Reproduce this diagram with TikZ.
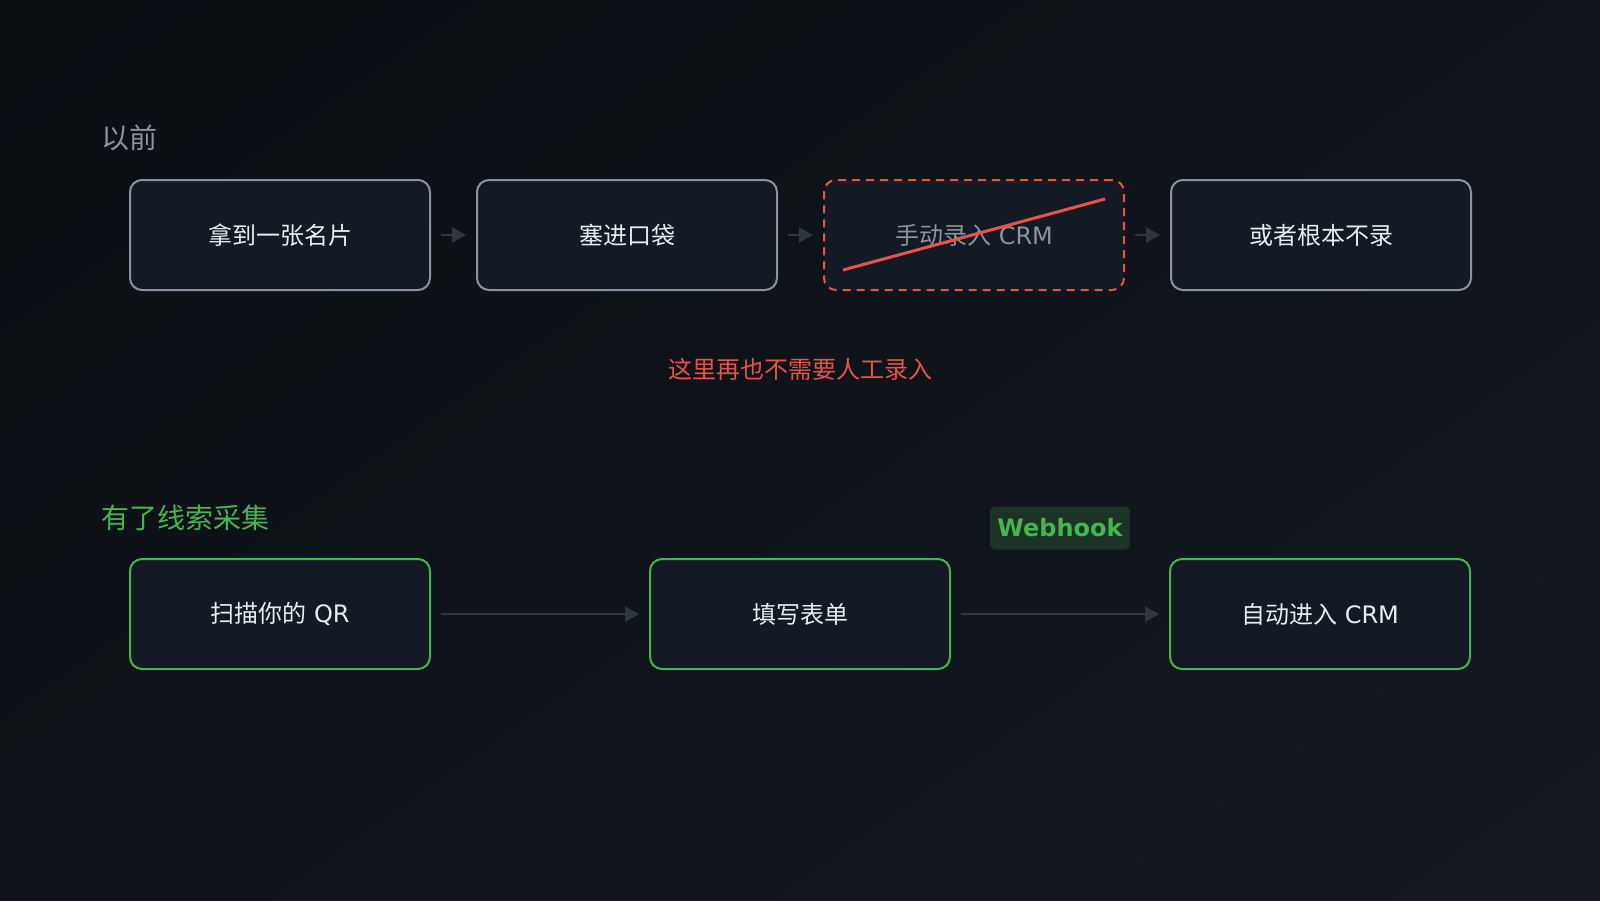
\documentclass[tikz,border=0pt]{standalone}
\usepackage{fontspec}
\setmainfont{DejaVu Sans}
\newfontfamily\cjk{Noto Sans CJK SC}
\usetikzlibrary{positioning,arrows.meta}
\definecolor{bgA}{HTML}{0B0F14}
\definecolor{bgB}{HTML}{141920}
\definecolor{cardfill}{HTML}{141A23}
\definecolor{oldgray}{HTML}{8B949E}
\definecolor{cardtext}{HTML}{E6EDF3}
\definecolor{flowgray}{HTML}{30363D}
\definecolor{stopred}{HTML}{E5534B}
\definecolor{okgreen}{HTML}{46B450}
\definecolor{badgefill}{HTML}{1C3325}
\tikzset{
	card/.style={draw=oldgray, line width=2pt, rounded corners=12pt, fill=cardfill,
		minimum width=300pt, minimum height=110pt, text=cardtext,
		font=\fontsize{24}{28}\selectfont},
	dropped/.style={card, draw=stopred, dash pattern=on 8pt off 6pt, text=oldgray},
	newcard/.style={card, draw=okgreen},
	flow/.style={draw=flowgray, line width=2.5pt, -{Triangle[length=14pt,width=15pt]},
		shorten <=10pt, shorten >=10pt},
	head/.style={anchor=west, font=\fontsize{28}{32}\selectfont\cjk},
}
\begin{document}
\begin{tikzpicture}[x=1pt,y=-1pt, node distance=45pt]
	\useasboundingbox (0,0) rectangle (1600,900);
	\shade[top color=bgA, bottom color=bgB, shading angle=35] (-200,-200) rectangle (1800,1100);
	% before
	\node[head, text=oldgray] (past) at (98,138) {以前};
	\node[card] (card) at (280,235) {\cjk 拿到一张名片};
	\node[card, right=of card] (pocket) {\cjk 塞进口袋};
	\node[dropped, right=of pocket] (manual) {{\cjk 手动录入} CRM};
	\node[card, right=of manual] (never) {\cjk 或者根本不录};
	\foreach \a/\b in {card/pocket, pocket/manual, manual/never}
		\draw[flow] (\a.east) -- (\b.west);
	\draw[stopred, line width=3pt] ([xshift=20pt,yshift=21pt]manual.south west)
		-- ([xshift=-20pt,yshift=-20pt]manual.north east);
	\node[text=stopred, font=\fontsize{24}{28}\selectfont\cjk] (note) at (800,369) {这里再也不需要人工录入};
	% after
	\node[head, text=okgreen] (now) at (98,518) {有了线索采集};
	\node[newcard] (scan) at (280,614) {{\cjk 扫描你的} QR};
	\node[newcard] (form) at (800,614) {\cjk 填写表单};
	\node[newcard] (crm) at (1320,614) {{\cjk 自动进入} CRM};
	\draw[flow] (scan.east) -- (form.west);
	\draw[flow] (form.east) -- (crm.west);
	\node[fill=badgefill, rounded corners=6pt, minimum width=140pt, minimum height=43pt,
		text=okgreen, font=\fontsize{24}{28}\selectfont\bfseries] (hook) at (1060,528) {Webhook};
\end{tikzpicture}
\end{document}
